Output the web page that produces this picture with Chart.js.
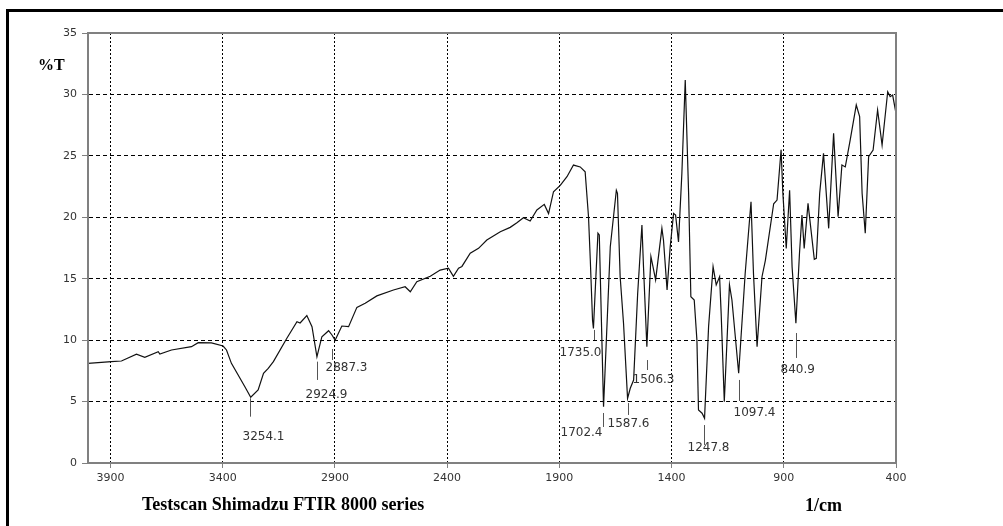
<!DOCTYPE html>
<html>
<head>
<meta charset="utf-8">
<script src="https://cdn.jsdelivr.net/npm/chart.js@4.4.0/dist/chart.umd.min.js"></script>
<style>
html, body { margin: 0; padding: 0; background: #fff; overflow: hidden; }
#wrap { position: relative; width: 1003px; height: 526px; overflow: hidden; }
#frame { position: absolute; left: 6px; top: 9px; width: 1100px; height: 600px; border: 3px solid #000; box-sizing: border-box; }
canvas { position: absolute; left: 0; top: 0; }
</style>
</head>
<body>
<div id="wrap">
  <div id="frame"></div>
  <canvas id="myChart" width="1003" height="526"></canvas>
</div>
<script>
// spectrum (wavenumber 1/cm, %T)
const wavenumber = [
  4000, 3896, 3851, 3784, 3747, 3687, 3680, 3628, 3539, 3509, 3450, 3398, 3383, 3361, 3301, 3275, 3242, 3218, 3197, 3174,
  3114, 3069, 3055, 3025, 3002, 2980, 2958, 2928, 2913, 2899, 2869, 2839, 2802, 2765, 2713, 2639, 2587, 2564, 2535, 2475,
  2431, 2394, 2372, 2349, 2334, 2297, 2260, 2223, 2163, 2119, 2089, 2060, 2030, 2000, 1967, 1948, 1926, 1896, 1866, 1837,
  1807, 1785, 1770, 1762, 1752, 1748, 1728, 1722, 1703, 1673, 1646, 1641, 1629, 1614, 1596, 1584, 1569, 1551, 1532, 1525,
  1510, 1492, 1483, 1471, 1443, 1436, 1420, 1406, 1391, 1382, 1369, 1354, 1339, 1324, 1314, 1299, 1287, 1280, 1264, 1253,
  1235, 1215, 1201, 1186, 1179, 1165, 1142, 1131, 1101, 1072, 1046, 1035, 1019, 997, 982, 945, 930, 912, 904, 889,
  874, 863, 846, 830, 819, 809, 792, 764, 755, 740, 723, 700, 678, 658, 641, 626, 604, 577, 562, 551,
  537, 522, 502, 482, 462, 437, 426, 415, 400
];
const transmittance = [
  8.11, 8.25, 8.30, 8.85, 8.60, 9.06, 8.87, 9.20, 9.47, 9.79, 9.77, 9.52, 9.20, 8.11, 6.21, 5.35, 5.94, 7.30, 7.70, 8.25,
  10.15, 11.5, 11.4, 12.0, 11.1, 8.65, 10.28, 10.77, 10.42, 10.0, 11.15, 11.1, 12.67, 13.0, 13.6, 14.08, 14.35, 13.94, 14.76, 15.2,
  15.7, 15.85, 15.2, 15.85, 16.0, 17.07, 17.47, 18.15, 18.83, 19.18, 19.56, 19.97, 19.7, 20.6, 21.05, 20.3, 22.08, 22.6, 23.3, 24.25,
  24.1, 23.7, 20.05, 16.5, 11.6, 10.96, 18.7, 18.56, 4.58, 17.6, 22.2, 21.95, 15.16, 11.37, 5.26, 6.08, 6.75, 13.8, 19.37, 15.98,
  9.47, 16.8, 16.0, 14.9, 19.1, 18.15, 14.08, 17.6, 20.32, 20.18, 18.0, 23.58, 31.17, 21.95, 13.53, 13.27, 10.0, 4.31, 4.05, 3.64,
  11.1, 15.98, 14.5, 15.16, 12.18, 4.99, 14.5, 13.27, 7.3, 15.43, 21.27, 15.43, 9.47, 15.16, 16.5, 21.1, 21.4, 25.5, 21.95, 17.47,
  22.2, 15.98, 11.37, 17.07, 20.18, 17.47, 21.13, 16.58, 16.66, 21.95, 25.2, 19.1, 26.83, 20.05, 24.25, 24.1, 26.3, 29.14, 28.19, 21.95,
  18.7, 24.93, 25.48, 28.73, 25.88, 30.22, 29.82, 29.95, 28.46
];

const xTicks = [3900, 3400, 2900, 2400, 1900, 1400, 900, 400];

// peak marks: label, where the mark stands, top and bottom of the little line (%T)
const peakLabels = ['3254.1', '2924.9', '2887.3', '1735.0', '1702.4', '1587.6', '1506.3', '1247.8', '1097.4', '840.9'];
const peakX = [3277, 2980, 2911, 1747, 1706, 1594, 1510, 1254, 1100, 846];
const peakTop = [5.27, 8.25, 9.28, 10.83, 4.07, 4.88, 8.38, 3.09, 6.76, 10.58];
const peakBottom = [3.77, 6.76, 8.38, 10.01, 2.93, 3.91, 7.57, 1.47, 5.05, 8.55];

// label offset from the line's lower end, in px
const labelOffset = [[-8, 20], [-12, 15], [-7, 8], [-35, 13], [-43, 6], [-21, 9], [-15, 10], [-17, 3], [-6, 12], [-16, 12]];

const points = wavenumber.map((w, i) => ({ x: w, y: transmittance[i] }));

const extras = {
    id: 'extras',
    afterDraw(chart) {
        const { ctx, chartArea: a, scales: { x, y } } = chart;
        ctx.save();
        // grey box round the plot
        ctx.strokeStyle = '#808080';
        ctx.lineWidth = 2;
        ctx.strokeRect(a.left, a.top, a.right - a.left, a.bottom - a.top);

        // peak marks
        ctx.strokeStyle = '#555';
        ctx.lineWidth = 1;
        ctx.fillStyle = '#333';
        ctx.font = '12px "DejaVu Sans"';
        ctx.textAlign = 'left';
        ctx.textBaseline = 'middle';
        peakLabels.forEach((t, i) => {
            const px = Math.round(x.getPixelForValue(peakX[i])) + 0.5;
            const y1 = y.getPixelForValue(peakTop[i]);
            const y2 = y.getPixelForValue(peakBottom[i]);
            ctx.beginPath();
            ctx.moveTo(px, y1);
            ctx.lineTo(px, y2);
            ctx.stroke();
            ctx.fillText(t, px + labelOffset[i][0], y2 + labelOffset[i][1]);
        });

        // titles
        ctx.fillStyle = '#000';
        ctx.font = 'bold 16px "Liberation Serif"';
        ctx.fillText('%T', 38, 66);
        ctx.font = 'bold 18px "Liberation Serif"';
        ctx.fillText('Testscan Shimadzu FTIR 8000 series', 142, 505);
        ctx.fillText('1/cm', 805, 506);
        ctx.restore();
    }
};

const ctx = document.getElementById('myChart').getContext('2d');
const myChart = new Chart(ctx, {
    type: 'line',
    data: {
        datasets: [{
            data: points,
            borderColor: '#111',
            borderWidth: 1.2,
            pointRadius: 0,
            tension: 0,
            fill: false
        }]
    },
    options: {
        responsive: false,
        animation: false,
        layout: { padding: { top: 33, right: 107, left: 0, bottom: 0 } },
        plugins: {
            legend: { display: false },
            tooltip: { enabled: false }
        },
        scales: {
            x: {
                type: 'linear',
                reverse: true,
                min: 400,
                max: 4000,
                afterBuildTicks: s => { s.ticks = xTicks.map(v => ({ value: v })); },
                afterFit: s => { s.height = 63; },
                border: { color: '#808080', width: 2, dash: [2, 2] },
                grid: {
                    color: '#000',
                    lineWidth: 1,
                    tickColor: '#808080',
                    tickLength: 5,
                    tickBorderDash: []
                },
                ticks: {
                    color: '#333',
                    font: { family: 'DejaVu Sans', size: 11 },
                    padding: 4,
                    maxRotation: 0,
                    autoSkip: false,
                    callback: v => String(v)
                }
            },
            y: {
                min: 0,
                max: 35,
                afterFit: s => { s.width = 88; },
                border: { color: '#808080', width: 2, dash: [4, 3] },
                grid: {
                    color: '#000',
                    lineWidth: 1,
                    tickColor: '#808080',
                    tickLength: 6,
                    tickBorderDash: []
                },
                ticks: {
                    stepSize: 5,
                    color: '#333',
                    font: { family: 'DejaVu Sans', size: 11 },
                    padding: 5,
                    callback: v => String(v)
                }
            }
        }
    },
    plugins: [extras]
});
</script>
</body>
</html>
